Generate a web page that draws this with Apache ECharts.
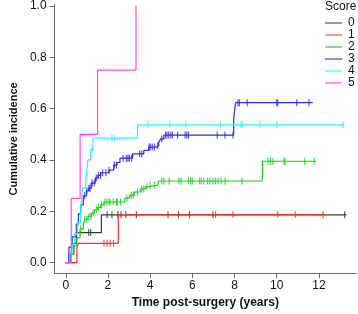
<!DOCTYPE html>
<html>
<head>
<meta charset="utf-8">
<script src="https://cdn.jsdelivr.net/npm/echarts@6/dist/echarts.min.js"></script>
<style>
  html, body { margin: 0; padding: 0; background: #fff; }
  #chart { width: 358px; height: 314px; }
</style>
</head>
<body>
<div id="chart"></div>
<script>
// step curves: [time, cumulative incidence], last point = end of follow-up
const score0Steps = [[0, 0], [0.22, 0.035], [0.38, 0.075], [0.5, 0.117], [1.69, 0.186], [13.3, 0.186]];
const score1Steps = [[0, 0], [0.53, 0.06], [0.6, 0.075], [2.49, 0.187], [12.23, 0.187]];
const score2Steps = [[0, 0], [0.15, 0.033], [0.38, 0.065], [0.53, 0.097], [0.68, 0.13], [0.83, 0.148],
  [0.9, 0.168], [1.06, 0.18], [1.21, 0.193], [1.36, 0.206], [1.51, 0.215], [1.66, 0.225], [1.81, 0.236],
  [2.8, 0.251], [3.02, 0.262], [3.25, 0.275], [3.55, 0.287], [3.78, 0.296], [3.93, 0.302], [4.38, 0.318],
  [9.32, 0.395], [11.86, 0.395]];
const score3Steps = [[0, 0], [0.15, 0.06], [0.3, 0.1], [0.5, 0.15], [0.6, 0.19], [0.71, 0.225], [0.83, 0.26],
  [0.98, 0.28], [1.09, 0.29], [1.21, 0.31], [1.4, 0.33], [1.53, 0.34], [1.66, 0.35], [2.04, 0.36],
  [2.27, 0.38], [2.43, 0.39], [2.57, 0.407], [3.17, 0.424], [3.7, 0.437], [3.93, 0.45], [4.3, 0.456],
  [4.41, 0.469], [4.5, 0.482], [4.65, 0.497], [7.96, 0.559], [8.05, 0.623], [11.7, 0.623]];
const score4Steps = [[0, 0], [0.2, 0.035], [0.3, 0.07], [0.4, 0.11], [0.55, 0.155], [0.7, 0.2], [0.75, 0.25],
  [0.8, 0.29], [0.95, 0.32], [1.0, 0.36], [1.05, 0.4], [1.17, 0.44], [1.29, 0.485], [3.4, 0.537], [13.2, 0.537]];
const score5Steps = [[0, 0], [0.26, 0.25], [0.68, 0.5], [1.51, 0.75], [3.33, 1.0]];

// censoring times (tick marks)
const score0Censor = [1.09, 1.18, 1.96, 2.19, 2.47, 2.62, 2.85, 3.35, 4.85, 5.35, 5.86, 6.98, 13.22];
const score1Censor = [1.81, 1.96, 2.11, 2.26, 7.1, 7.93, 10.05, 10.88, 12.2];
const score2Censor = [0.7, 0.9, 1.0, 1.1, 1.2, 1.3, 1.45, 1.55, 1.7, 1.85, 1.95, 2.05, 2.1, 2.25, 2.4, 2.45, 2.6,
  2.9, 3.1, 3.2, 3.4, 3.6, 3.7, 3.85, 4.0, 4.2, 4.55, 4.65, 4.9, 5.37, 5.47, 5.82, 5.92, 6.0, 6.34, 6.42,
  6.54, 6.72, 6.83, 6.98, 7.1, 7.22, 7.36, 7.55, 8.36, 9.59, 9.7, 9.82, 10.35, 10.39, 11.33, 11.78];
const score3Censor = [0.9, 1.0, 1.1, 1.15, 1.25, 1.35, 1.45, 1.55, 1.65, 1.75, 1.9, 2.05, 2.3, 2.4, 2.72, 2.87,
  2.95, 3.02, 3.12, 3.5, 3.6, 3.95, 4.0, 4.1, 4.2, 4.35, 4.55, 4.73, 4.8, 4.88, 4.98, 5.06, 5.3, 5.66, 5.74,
  5.82, 7.18, 7.55, 7.93, 8.16, 8.23, 8.6, 10.0, 10.05, 10.95, 11.53];
const score4Censor = [1.24, 2.19, 2.31, 3.9, 4.94, 5.7, 7.33, 8.31, 8.38, 9.21, 10.01, 13.14];
const score5Censor = [];

const scoreNames = ['0', '1', '2', '3', '4', '5'];
const lineColors = ['#3a3a3a', '#ff2a2a', '#22cc22', '#2a2aee', '#33f0f0', '#ff44ff'];
const legendColors = ['#999999', '#ff9999', '#88dd88', '#8888ff', '#88ffff', '#ff99ff'];
const xTicks = [0, 2, 4, 6, 8, 10, 12];
const yTicks = [0, 0.2, 0.4, 0.6, 0.8, 1.0];

const allSteps = [score0Steps, score1Steps, score2Steps, score3Steps, score4Steps, score5Steps];
const allCensor = [score0Censor, score1Censor, score2Censor, score3Censor, score4Censor, score5Censor];

// value of the step curve at time t
function stepValue(steps, t) {
  let v = 0;
  for (const p of steps) {
    if (p[0] <= t) v = p[1];
  }
  return v;
}

const font = "'Liberation Sans', Arial, sans-serif";

let series = [];
scoreNames.forEach((name, i) => {
  series.push({
    name: name,
    type: 'line',
    step: 'end',
    symbol: 'none',
    data: allSteps[i],
    lineStyle: { color: lineColors[i], width: 1.2 },
    itemStyle: { color: lineColors[i] },
    z: 2 + i
  });
  series.push({
    name: 'censor' + name,
    type: 'scatter',
    symbol: 'rect',
    symbolSize: [1.2, 7],
    data: allCensor[i].map(t => [t, stepValue(allSteps[i], t)]),
    itemStyle: { color: lineColors[i] },
    z: 2 + i
  });
});

const chart = echarts.init(document.getElementById('chart'));
chart.setOption({
  animation: false,
  textStyle: { fontFamily: font },
  title: {
    text: 'Score',
    left: 325,
    top: 1,
    padding: 0,
    textStyle: { fontSize: 12, fontWeight: 'normal', color: '#111', fontFamily: font }
  },
  legend: {
    orient: 'vertical',
    left: 325,
    top: 17,
    padding: 0,
    itemGap: 0,
    itemWidth: 17,
    itemHeight: 2,
    icon: 'rect',
    textStyle: { fontSize: 12, lineHeight: 10.7, color: '#111', fontFamily: font, padding: [0, 0, 0, 1] },
    data: scoreNames.map((n, i) => ({ name: n, itemStyle: { color: legendColors[i] } }))
  },
  grid: { left: 41.7, right: 2, top: 4, bottom: 38 },
  xAxis: {
    type: 'value',
    min: -0.53,
    max: 13.76,
    name: 'Time post-surgery (years)',
    nameLocation: 'middle',
    nameGap: 23,
    nameTextStyle: { fontSize: 12, fontWeight: 'bold', color: '#111', fontFamily: font },
    axisLine: { show: true, onZero: false, lineStyle: { color: '#666', width: 1 } },
    axisTick: { show: true, length: 5, customValues: xTicks, lineStyle: { color: '#666' } },
    axisLabel: { customValues: xTicks, fontSize: 12, color: '#111', margin: 7 },
    splitLine: { show: false }
  },
  yAxis: {
    type: 'value',
    min: -0.041,
    max: 1.005,
    name: 'Cumulative incidence',
    nameLocation: 'middle',
    nameGap: 28,
    nameTextStyle: { fontSize: 11, fontWeight: 'bold', color: '#111', fontFamily: font },
    axisLine: { show: true, onZero: false, lineStyle: { color: '#666', width: 1 } },
    axisTick: { show: true, length: 5, customValues: yTicks, lineStyle: { color: '#666' } },
    axisLabel: { customValues: yTicks, fontSize: 12, color: '#111', margin: 8,
      formatter: v => v.toFixed(1) },
    splitLine: { show: false }
  },
  series: series
});
</script>
</body>
</html>
